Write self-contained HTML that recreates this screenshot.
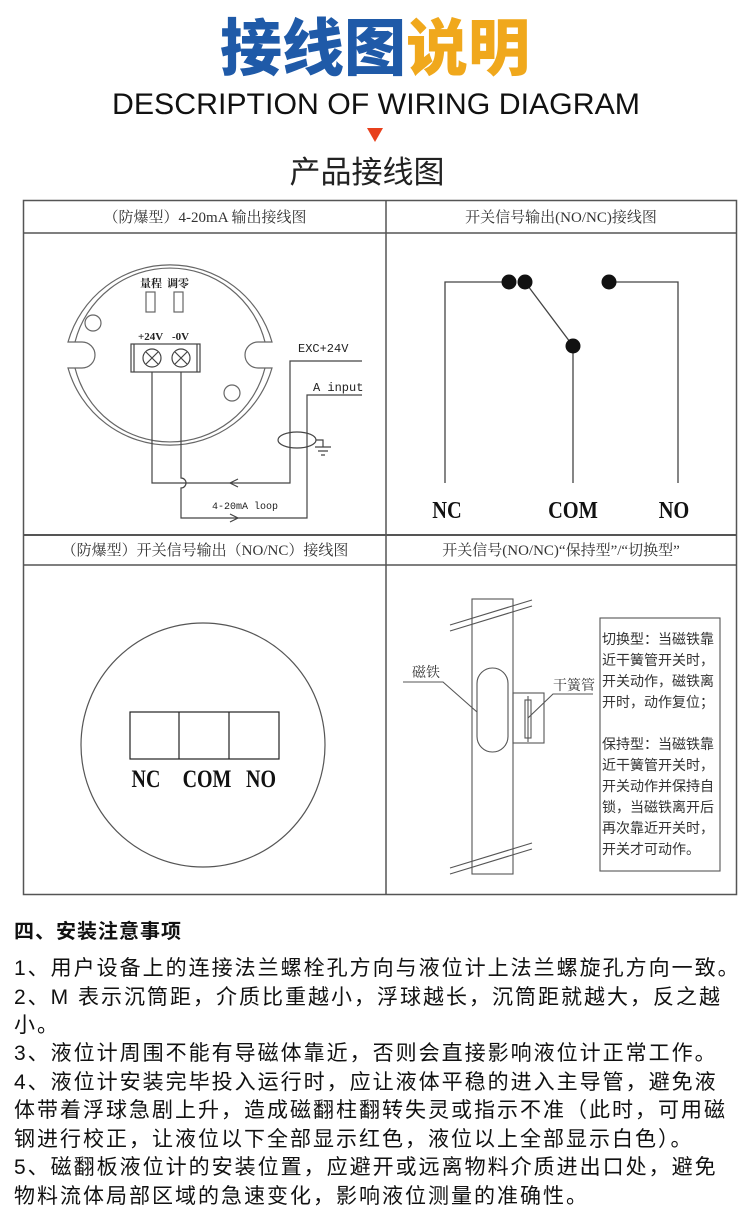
<!DOCTYPE html>
<html><head><meta charset="utf-8">
<style>
html,body{margin:0;padding:0;background:#fff;}
body{width:750px;height:1213px;position:relative;overflow:hidden;font-family:"Liberation Sans","Noto Sans CJK SC",sans-serif;}
svg{position:absolute;left:0;top:0;}
.t{position:absolute;left:14px;white-space:nowrap;font-size:21px;letter-spacing:2px;color:#111;font-family:"Liberation Sans","Noto Sans CJK SC",sans-serif;}
</style></head><body>
<svg width="750" height="1213" viewBox="0 0 750 1213" xmlns="http://www.w3.org/2000/svg">
<g font-family="'Liberation Sans','Noto Sans CJK SC',sans-serif">
<text x="375" y="70" text-anchor="middle" font-size="62" font-weight="900"><tspan fill="#1f5aa8">接线图</tspan><tspan fill="#f0a81c">说明</tspan></text>
<text x="376" y="114" text-anchor="middle" font-size="30" fill="#111" textLength="528" lengthAdjust="spacingAndGlyphs">DESCRIPTION OF WIRING DIAGRAM</text>
<polygon points="367,128 383,128 375,142" fill="#e8401c"/>
<text x="367" y="183" text-anchor="middle" font-size="31" fill="#222">产品接线图</text>
</g>
<g fill="none" stroke="#555" stroke-width="1.5">
<rect x="23.5" y="200.5" width="713" height="694"/>
<line x1="386" y1="200" x2="386" y2="895"/>
<line x1="23" y1="233" x2="737" y2="233"/>
<line x1="23" y1="535" x2="737" y2="535" stroke-width="2"/>
<line x1="23" y1="565" x2="737" y2="565"/>
</g>
<g font-family="'Liberation Serif','Noto Serif CJK SC',serif" font-size="15" fill="#333">
<text x="205" y="222" text-anchor="middle">（防爆型）4-20mA 输出接线图</text>
<text x="561" y="222" text-anchor="middle">开关信号输出(NO/NC)接线图</text>
<text x="205" y="555" text-anchor="middle">（防爆型）开关信号输出（NO/NC）接线图</text>
<text x="561" y="555" text-anchor="middle">开关信号(NO/NC)“保持型”/“切换型”</text>
</g>
<g fill="none" stroke="#666" stroke-width="1.2">
<path d="M 68 342 A 106 106 0 0 1 272 342 L 258 342 A 12 12 0 0 0 258 368 L 272 368 A 106 106 0 0 1 68 368 L 82 368 A 12 12 0 0 0 82 342 Z"/>
<path d="M 75 342 A 98 98 0 0 1 265 342 M 265 368 A 98 98 0 0 1 75 368"/>
<circle cx="93" cy="323" r="8"/>
<circle cx="232" cy="393" r="8"/>
<rect x="146" y="292" width="9" height="20"/>
<rect x="174" y="292" width="9" height="20"/>
</g>
<g stroke="#444" stroke-width="1.2" fill="none">
<rect x="131" y="344" width="69" height="28"/>
<line x1="134" y1="344" x2="134" y2="372"/>
<line x1="197" y1="344" x2="197" y2="372"/>
<circle cx="152" cy="358" r="9"/><path d="M146 352 L158 364 M158 352 L146 364"/>
<circle cx="181" cy="358" r="9"/><path d="M175 352 L187 364 M187 352 L175 364"/>
<path d="M152 372 V483 H290 V361 H362"/>
<path d="M181 372 V478 A5 5 0 0 1 181 488 V518 H307 V395 H362"/>
<path d="M238 479 L230 483 L238 487"/>
<path d="M230 514 L238 518 L230 522"/>
<ellipse cx="297" cy="440" rx="19" ry="8"/>
<path d="M316 440 H323 V447 M315 447 H331 M318 451 H328 M321 455 H325"/>
</g>
<g font-family="'Liberation Serif','Noto Serif CJK SC',serif" font-weight="bold" fill="#222">
<text x="140" y="287" font-size="11">量程</text>
<text x="167" y="287" font-size="11">调零</text>
<text x="138" y="340" font-size="11">+24V</text>
<text x="172" y="340" font-size="11">-0V</text>
</g>
<g font-family="'Liberation Mono',monospace" fill="#222" font-size="12">
<text x="298" y="352">EXC+24V</text>
<text x="313" y="391">A input</text>
<text x="212" y="509" font-size="10">4-20mA loop</text>
</g>
<g stroke="#444" stroke-width="1.3" fill="none">
<path d="M445 483 V282 H509"/>
<path d="M525 282 L573 346 V483"/>
<path d="M609 282 H678 V483"/>
</g>
<g fill="#111">
<circle cx="509" cy="282" r="7.5"/><circle cx="525" cy="282" r="7.5"/>
<circle cx="573" cy="346" r="7.5"/><circle cx="609" cy="282" r="7.5"/>
</g>
<g font-family="'Liberation Serif',serif" font-size="24" font-weight="bold" fill="#111" text-anchor="middle">
<text x="447" y="518" transform="translate(447 0) scale(0.85 1) translate(-447 0)">NC</text>
<text x="573" y="518" transform="translate(573 0) scale(0.85 1) translate(-573 0)">COM</text>
<text x="674" y="518" transform="translate(674 0) scale(0.85 1) translate(-674 0)">NO</text>
</g>
<g stroke="#555" stroke-width="1.2" fill="none">
<circle cx="203" cy="745" r="122"/>
<rect x="130" y="712" width="149" height="47" stroke="#222"/>
<line x1="179" y1="712" x2="179" y2="759" stroke="#222"/>
<line x1="229" y1="712" x2="229" y2="759" stroke="#222"/>
</g>
<g font-family="'Liberation Serif',serif" font-size="25" font-weight="bold" fill="#111" text-anchor="middle">
<text x="146" y="787" transform="translate(146 0) scale(0.8 1) translate(-146 0)">NC</text>
<text x="207" y="787" transform="translate(207 0) scale(0.8 1) translate(-207 0)">COM</text>
<text x="261" y="787" transform="translate(261 0) scale(0.8 1) translate(-261 0)">NO</text>
</g>
<g stroke="#555" stroke-width="1.1" fill="none">
<rect x="472" y="599" width="41" height="275"/>
<path d="M450 625 L532 600 M450 631 L532 606"/>
<path d="M450 868 L532 843 M450 874 L532 849"/>
<rect x="477" y="668" width="31" height="84" rx="15.5"/>
<rect x="513" y="693" width="31" height="50"/>
<rect x="525" y="700" width="6" height="38"/>
<path d="M528 696 V742"/>
<path d="M403 682 H443 L477 712"/>
<path d="M593 694 H553 L528 718"/>
<rect x="600" y="618" width="120" height="253"/>
</g>
<g font-family="'Liberation Serif','Noto Serif CJK SC',serif" fill="#333" font-size="14">
<text x="412" y="677">磁铁</text>
<text x="553" y="690">干簧管</text>
</g>
<g font-family="'Noto Sans CJK SC',sans-serif" fill="#333" font-size="14">
<text x="602" y="644">切换型：当磁铁靠</text>
<text x="602" y="665">近干簧管开关时，</text>
<text x="602" y="686">开关动作，磁铁离</text>
<text x="602" y="707">开时，动作复位；</text>
<text x="602" y="749">保持型：当磁铁靠</text>
<text x="602" y="770">近干簧管开关时，</text>
<text x="602" y="791">开关动作并保持自</text>
<text x="602" y="812">锁，当磁铁离开后</text>
<text x="602" y="833">再次靠近开关时，</text>
<text x="602" y="854">开关才可动作。</text>
</g>
</svg>
<div class="t" style="top:915px;font-weight:bold;font-size:20px;letter-spacing:1px;">四、安装注意事项</div>
<div class="t" style="top:952px;">1、用户设备上的连接法兰螺栓孔方向与液位计上法兰螺旋孔方向一致。</div>
<div class="t" style="top:981px;">2、M 表示沉筒距，介质比重越小，浮球越长，沉筒距就越大，反之越</div>
<div class="t" style="top:1009px;">小。</div>
<div class="t" style="top:1037px;">3、液位计周围不能有导磁体靠近，否则会直接影响液位计正常工作。</div>
<div class="t" style="top:1066px;">4、液位计安装完毕投入运行时，应让液体平稳的进入主导管，避免液</div>
<div class="t" style="top:1094px;">体带着浮球急剧上升，造成磁翻柱翻转失灵或指示不准（此时，可用磁</div>
<div class="t" style="top:1123px;">钢进行校正，让液位以下全部显示红色，液位以上全部显示白色）。</div>
<div class="t" style="top:1151px;">5、磁翻板液位计的安装位置，应避开或远离物料介质进出口处，避免</div>
<div class="t" style="top:1180px;">物料流体局部区域的急速变化，影响液位测量的准确性。</div>
</body></html>
